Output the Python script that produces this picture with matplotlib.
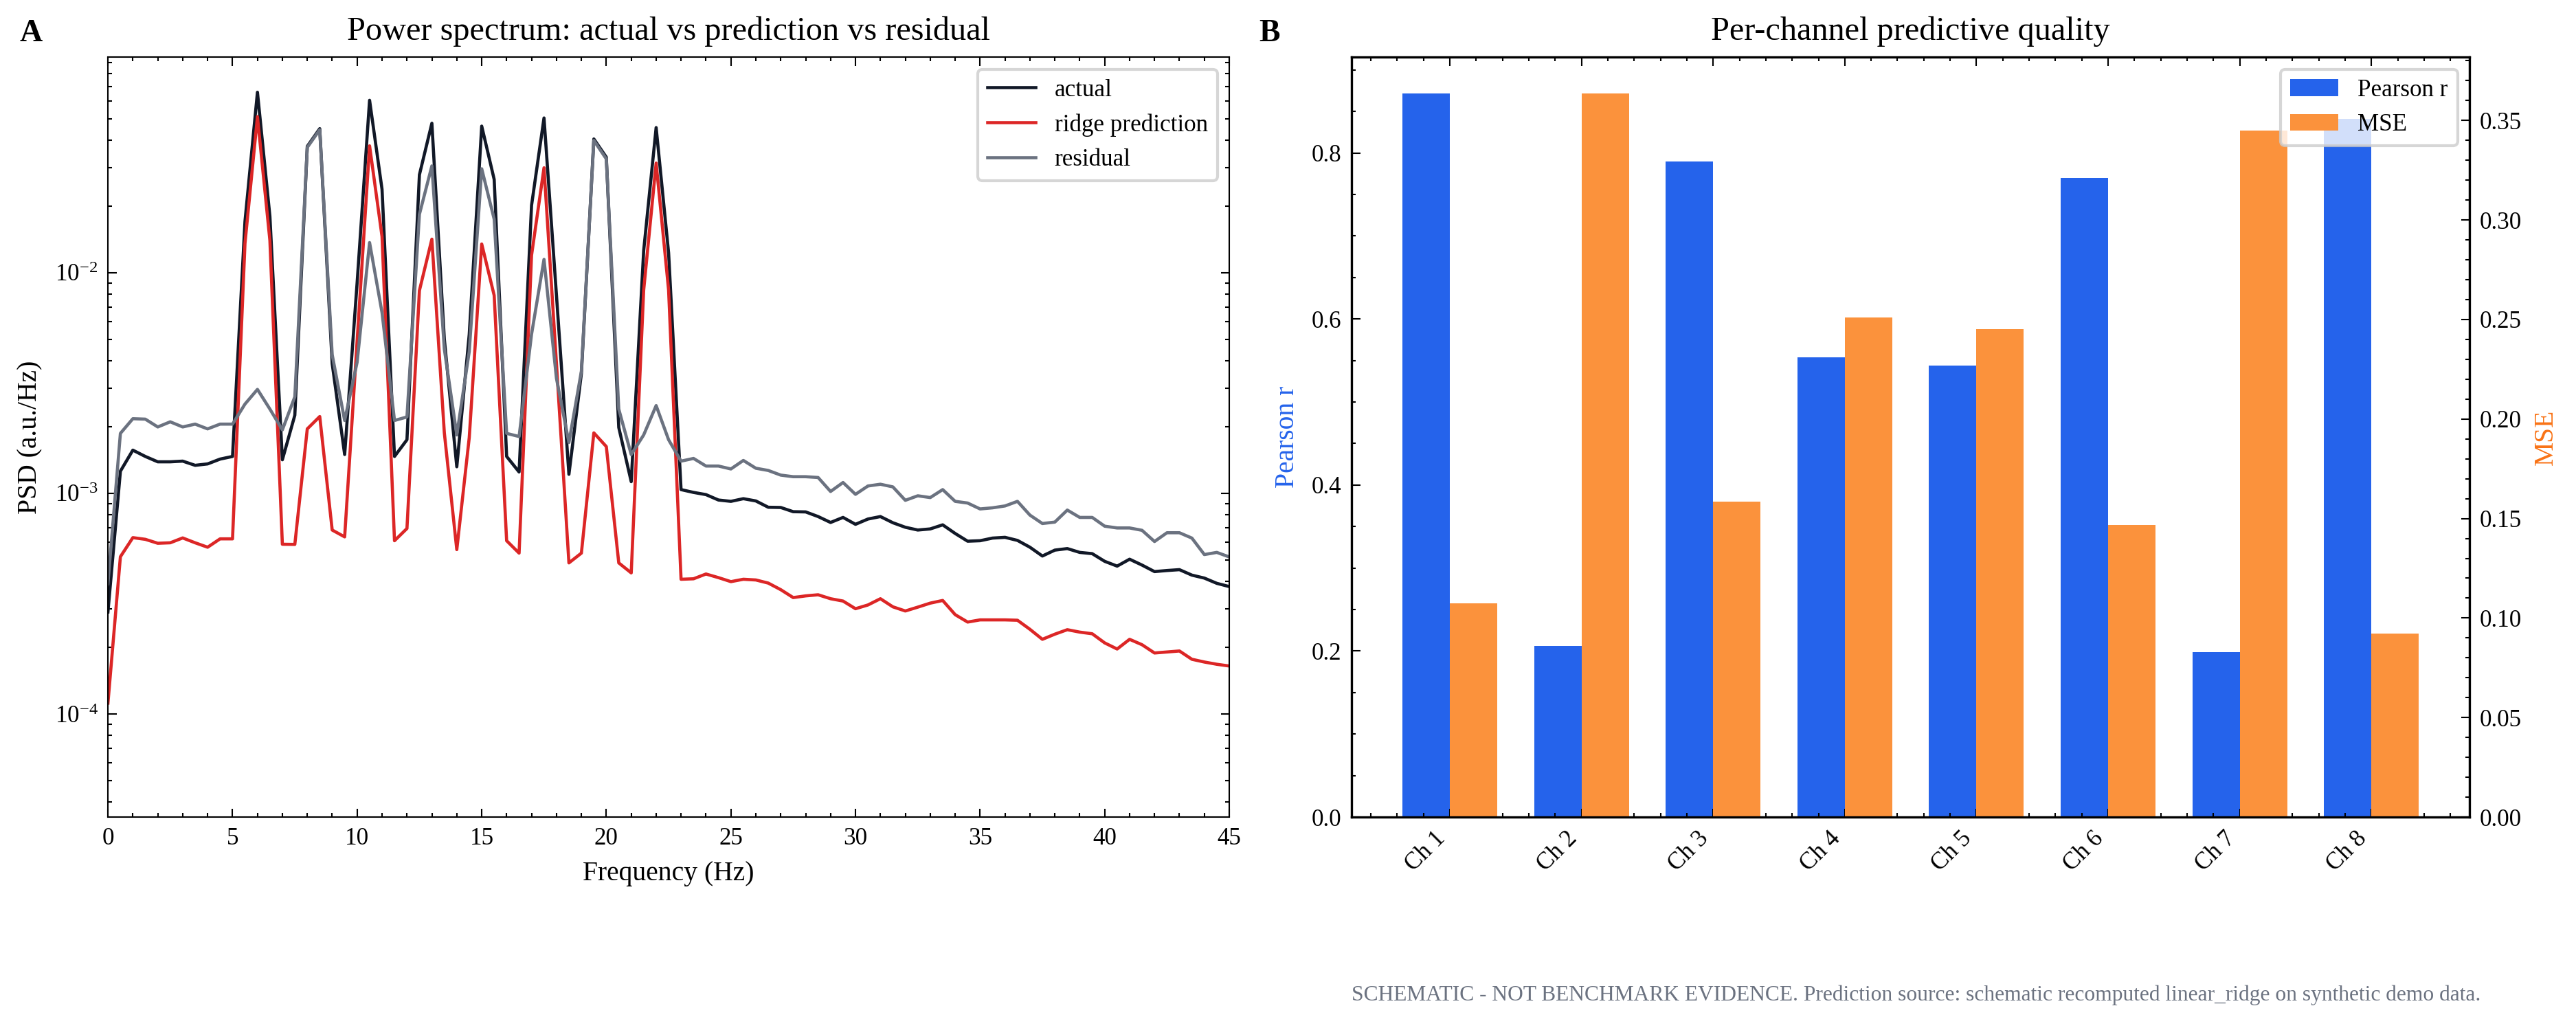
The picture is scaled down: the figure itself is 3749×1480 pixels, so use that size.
import numpy as np
import matplotlib
matplotlib.use("Agg")
import matplotlib.pyplot as plt
from matplotlib.ticker import AutoMinorLocator, MultipleLocator

# Panel A: power spectra (0.5 Hz bins, 0-45 Hz)
freqs = np.arange(0, 45.5, 0.5)

psd_actual = [
    2.9e-4, 1.26e-3, 1.57e-3, 1.47e-3, 1.39e-3, 1.39e-3, 1.40e-3, 1.34e-3, 1.36e-3, 1.43e-3,
    1.47e-3, 1.71e-2, 6.58e-2, 1.80e-2, 1.42e-3, 2.26e-3, 3.74e-2, 4.50e-2, 3.87e-3, 1.50e-3,
    9.0e-3, 6.05e-2, 2.39e-2, 1.47e-3, 1.75e-3, 2.78e-2, 4.76e-2, 5.0e-3, 1.32e-3, 5.26e-3,
    4.62e-2, 2.65e-2, 1.47e-3, 1.25e-3, 2.02e-2, 5.03e-2, 7.9e-3, 1.22e-3, 3.49e-3, 4.04e-2,
    3.34e-2, 1.99e-3, 1.13e-3, 1.26e-2, 4.55e-2, 1.23e-2, 1.04e-3, 1.01e-3, 9.87e-4, 9.33e-4,
    9.20e-4, 9.46e-4, 9.24e-4, 8.65e-4, 8.63e-4, 8.26e-4, 8.24e-4, 7.85e-4, 7.38e-4, 7.78e-4,
    7.24e-4, 7.65e-4, 7.85e-4, 7.36e-4, 7.02e-4, 6.82e-4, 6.90e-4, 7.20e-4, 6.58e-4, 6.07e-4,
    6.10e-4, 6.27e-4, 6.32e-4, 6.12e-4, 5.70e-4, 5.20e-4, 5.53e-4, 5.62e-4, 5.40e-4, 5.33e-4,
    4.92e-4, 4.68e-4, 5.03e-4, 4.73e-4, 4.42e-4, 4.47e-4, 4.51e-4, 4.26e-4, 4.13e-4, 3.91e-4,
    3.78e-4,
]
psd_pred = [
    1.12e-4, 5.16e-4, 6.30e-4, 6.19e-4, 5.94e-4, 5.97e-4, 6.28e-4, 5.97e-4, 5.70e-4, 6.22e-4,
    6.22e-4, 1.36e-2, 5.10e-2, 1.40e-2, 5.88e-4, 5.87e-4, 1.96e-3, 2.23e-3, 6.82e-4, 6.35e-4,
    4.9e-3, 3.76e-2, 1.46e-2, 6.10e-4, 6.93e-4, 8.3e-3, 1.42e-2, 1.88e-3, 5.56e-4, 1.79e-3,
    1.35e-2, 7.9e-3, 6.10e-4, 5.36e-4, 1.20e-2, 2.99e-2, 3.87e-3, 4.84e-4, 5.36e-4, 1.88e-3,
    1.63e-3, 4.84e-4, 4.36e-4, 8.35e-3, 3.14e-2, 8.35e-3, 4.08e-4, 4.10e-4, 4.31e-4, 4.15e-4,
    3.98e-4, 4.08e-4, 4.05e-4, 3.92e-4, 3.66e-4, 3.37e-4, 3.43e-4, 3.47e-4, 3.33e-4, 3.25e-4,
    3.00e-4, 3.12e-4, 3.33e-4, 3.06e-4, 2.93e-4, 3.05e-4, 3.18e-4, 3.27e-4, 2.82e-4, 2.61e-4,
    2.67e-4, 2.67e-4, 2.67e-4, 2.66e-4, 2.42e-4, 2.18e-4, 2.30e-4, 2.41e-4, 2.35e-4, 2.31e-4,
    2.10e-4, 1.97e-4, 2.18e-4, 2.06e-4, 1.89e-4, 1.91e-4, 1.93e-4, 1.77e-4, 1.72e-4, 1.68e-4,
    1.65e-4,
]
psd_resid = [
    3.9e-4, 1.87e-3, 2.18e-3, 2.17e-3, 2.00e-3, 2.11e-3, 2.00e-3, 2.06e-3, 1.96e-3, 2.06e-3,
    2.06e-3, 2.54e-3, 2.96e-3, 2.41e-3, 1.94e-3, 2.74e-3, 3.70e-2, 4.45e-2, 4.25e-3, 2.14e-3,
    3.93e-3, 1.37e-2, 6.6e-3, 2.14e-3, 2.22e-3, 1.84e-2, 3.05e-2, 4.51e-3, 1.84e-3, 4.40e-3,
    2.96e-2, 1.75e-2, 1.87e-3, 1.81e-3, 5.26e-3, 1.15e-2, 3.32e-3, 1.70e-3, 3.58e-3, 3.98e-2,
    3.28e-2, 2.41e-3, 1.50e-3, 1.84e-3, 2.50e-3, 1.75e-3, 1.40e-3, 1.44e-3, 1.33e-3, 1.33e-3,
    1.29e-3, 1.41e-3, 1.30e-3, 1.27e-3, 1.21e-3, 1.19e-3, 1.19e-3, 1.18e-3, 1.02e-3, 1.12e-3,
    9.90e-4, 1.08e-3, 1.10e-3, 1.07e-3, 9.30e-4, 9.75e-4, 9.57e-4, 1.04e-3, 9.20e-4, 9.04e-4,
    8.50e-4, 8.60e-4, 8.77e-4, 9.20e-4, 7.97e-4, 7.30e-4, 7.41e-4, 8.40e-4, 7.78e-4, 7.78e-4,
    7.10e-4, 6.97e-4, 6.97e-4, 6.80e-4, 6.05e-4, 6.63e-4, 6.63e-4, 6.27e-4, 5.28e-4, 5.40e-4,
    5.15e-4,
]

# Panel B: per-channel metrics
channels = ["Ch 1", "Ch 2", "Ch 3", "Ch 4", "Ch 5", "Ch 6", "Ch 7", "Ch 8"]
pearson_r = [0.872, 0.206, 0.790, 0.554, 0.544, 0.770, 0.199, 0.841]
mse = [0.1075, 0.3637, 0.1584, 0.2512, 0.2450, 0.1466, 0.3450, 0.0922]

footer = ("SCHEMATIC - NOT BENCHMARK EVIDENCE. Prediction source: "
          "schematic recomputed linear_ridge on synthetic demo data.")

BLUE = "#2563eb"
ORANGE = "#fb923c"


def style_axis(ax):
    ax.tick_params(which="both", direction="in", top=True, right=True, width=0.5)
    ax.tick_params(which="major", length=3)
    ax.tick_params(which="minor", length=1.5)
    for sp in ax.spines.values():
        sp.set_linewidth(0.5)


def main():
    plt.rcParams["font.family"] = ["Liberation Serif", "DejaVu Serif"]
    plt.rcParams["mathtext.fontset"] = "stix"
    plt.rcParams["xtick.labelsize"] = 8.4
    plt.rcParams["ytick.labelsize"] = 8.4

    fig = plt.figure(figsize=(3749 / 300, 1480 / 300), dpi=300)

    # ---- A: spectrum
    ax = fig.add_axes([0.0419, 0.1966, 0.4353, 0.7473])
    ax.plot(freqs, psd_actual, color="#111827", lw=1.1, label="actual")
    ax.plot(freqs, psd_pred, color="#dc2626", lw=1.1, label="ridge prediction")
    ax.plot(freqs, psd_resid, color="#6b7280", lw=1.1, label="residual")
    ax.set_yscale("log")
    ax.set_xlim(0, 45)
    ax.set_ylim(3.41e-5, 0.095)
    ax.xaxis.set_major_locator(MultipleLocator(5))
    ax.xaxis.set_minor_locator(MultipleLocator(1))
    style_axis(ax)
    ax.set_xlabel("Frequency (Hz)", fontsize=9.5)
    ax.set_ylabel("PSD (a.u./Hz)", fontsize=9.5)
    ax.set_title("Power spectrum: actual vs prediction vs residual", fontsize=11.6)
    ax.legend(loc="upper right", fontsize=8.4)

    # ---- B: per-channel bars on twin axes
    axb = fig.add_axes([0.5247, 0.1966, 0.434, 0.7473])
    x = np.arange(len(channels))
    w = 0.36
    b1 = axb.bar(x - w / 2, pearson_r, w, color=BLUE, label="Pearson r")
    axb.set_ylim(bottom=0)
    axb.set_xticks(x)
    axb.set_xticklabels(channels, rotation=45, ha="right")
    axb.xaxis.set_minor_locator(AutoMinorLocator())
    axb.yaxis.set_minor_locator(AutoMinorLocator())
    style_axis(axb)
    axb.set_ylabel("Pearson r", color=BLUE, fontsize=9.5)
    axb.set_title("Per-channel predictive quality", fontsize=11.6)

    axm = axb.twinx()
    b2 = axm.bar(x + w / 2, mse, w, color=ORANGE, label="MSE")
    axm.set_ylim(bottom=0)
    axm.yaxis.set_minor_locator(AutoMinorLocator())
    axm.tick_params(which="both", direction="in", width=0.5)
    axm.tick_params(which="major", length=3)
    axm.tick_params(which="minor", length=1.5)
    axm.set_ylabel("MSE", color="#f97316", fontsize=9.5)
    axb.tick_params(axis="y", which="both", right=False)
    axm.legend([b1, b2], ["Pearson r", "MSE"], loc="upper right", fontsize=8.4)

    fig.text(0.0077, 0.981, "A", fontsize=11, fontweight="bold", va="top")
    fig.text(0.4887, 0.981, "B", fontsize=11, fontweight="bold", va="top")
    fig.text(0.963, 0.0216, footer, fontsize=7.55, color="#6b7280",
             ha="right", va="center")

    fig.savefig("out.png", dpi=300)


if __name__ == "__main__":
    main()
